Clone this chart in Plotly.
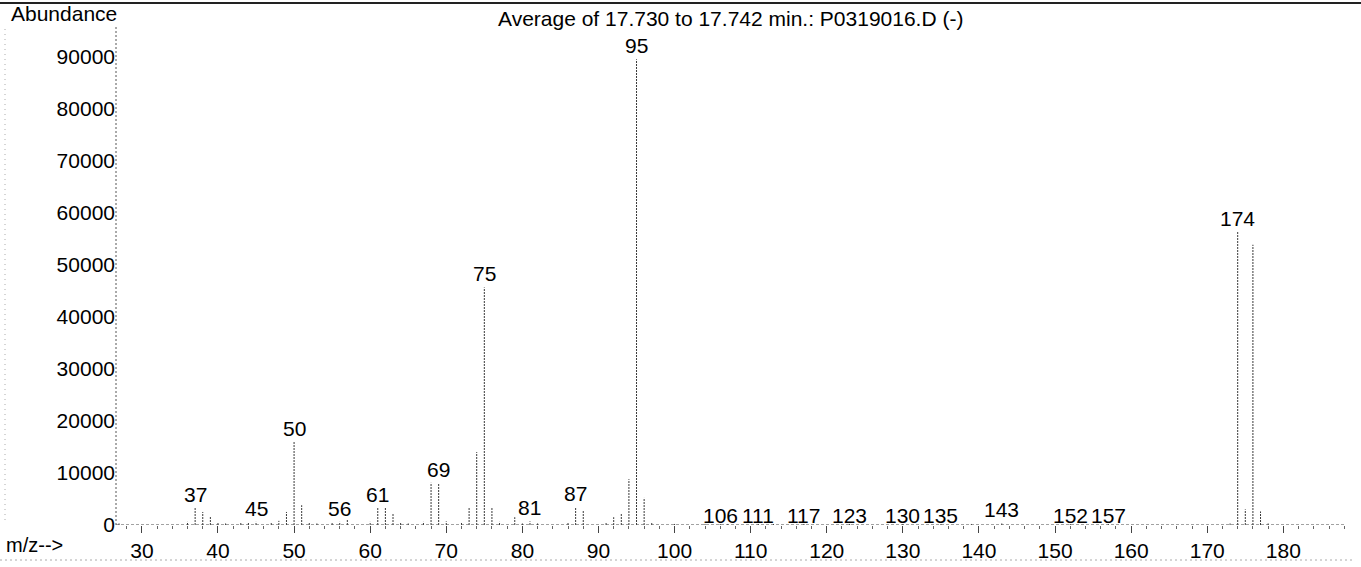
import plotly.graph_objects as go

# ---- data ----
mz = [27, 36, 37, 38, 39, 40, 41, 43, 44, 45, 47, 48, 49, 50, 51, 52, 53, 55, 56, 57,
      60, 61, 62, 63, 64, 65, 67, 68, 69, 70, 72, 73, 74, 75, 76, 77, 79, 80, 81, 82,
      86, 87, 88, 91, 92, 93, 94, 95, 96, 97, 100, 104, 106, 107, 111, 113, 117, 123,
      130, 135, 139, 143, 152, 157, 173, 174, 175, 176, 177, 178]
abundance = [300, 600, 3300, 2500, 1700, 400, 300, 400, 500, 600, 500, 800, 2500, 16000, 3800, 400, 300, 500, 600, 1000,
             600, 3300, 3300, 2300, 500, 300, 600, 8100, 8000, 700, 500, 3300, 14000, 45600, 3300, 600, 1500, 300, 700, 300,
             500, 3400, 2700, 400, 1500, 2300, 8800, 89400, 5200, 400, 200, 200, 200, 200, 200, 200, 200, 200,
             200, 200, 200, 300, 200, 200, 300, 56300, 3000, 53800, 2600, 300]
labels = [37, 45, 50, 56, 61, 69, 75, 81, 87, 95, 106, 111, 117, 123, 130, 135, 143, 152, 157, 174]
y_ticks = [0, 10000, 20000, 30000, 40000, 50000, 60000, 70000, 80000, 90000]
x_ticks = [30, 40, 50, 60, 70, 80, 90, 100, 110, 120, 130, 140, 150, 160, 170, 180]
title_text = "Average of 17.730 to 17.742 min.: P0319016.D (-)"

FONT = "Liberation Sans, Arial, sans-serif"
FS = 21
XMIN, XMAX = 26.6, 188.1
YMIN, YMAX = 0, 95600
PW, PH = 1229, 498  # plot area size in px

# stems
xs, ys = [], []
for m, a in zip(mz, abundance):
    xs += [m, m, None]
    ys += [0, a, None]

fig = go.Figure()
fig.add_trace(go.Scatter(x=xs, y=ys, mode="lines",
                         line=dict(color="#3a3a3a", width=1, dash="2px,1px"),
                         hoverinfo="skip", showlegend=False))

lookup = dict(zip(mz, abundance))
for lb in labels:
    a = lookup.get(lb, 0)
    fig.add_annotation(x=lb, y=a, text=str(lb), showarrow=False,
                       xanchor="center", yanchor="bottom", yshift=(-5 if a < 300 else 0),
                       font=dict(family=FONT, size=FS, color="black"))

# baseline (dotted) and y axis line
fig.add_shape(type="line", x0=XMIN, x1=XMAX, y0=0, y1=0, xref="x", yref="y",
              line=dict(color="#444", width=1, dash="3px,2px"))
fig.add_shape(type="line", x0=0, x1=0, y0=0, y1=1, xref="paper", yref="paper",
              line=dict(color="#555", width=1, dash="2px,2px"))
# top border line of the page
fig.add_shape(type="line", x0=-116/PW, x1=(1361-116)/PW, y0=1 + 24/PH, y1=1 + 24/PH,
              xref="paper", yref="paper", line=dict(color="#222", width=2))
# faint page edges
fig.add_shape(type="line", x0=-111/PW, x1=-111/PW, y0=0.01, y1=1, xref="paper", yref="paper",
              line=dict(color="#aaa", width=1, dash="1px,4px"))
fig.add_shape(type="line", x0=-116/PW, x1=(1352-116)/PW, y0=-35/PH, y1=-35/PH,
              xref="paper", yref="paper", line=dict(color="#aaa", width=1, dash="2px,3px"))

fig.add_annotation(text="Abundance", x=-107/PW, y=1 + 14/PH, xref="paper", yref="paper",
                   xanchor="left", yanchor="middle", showarrow=False,
                   font=dict(family=FONT, size=FS, color="black"))
fig.add_annotation(text="m/z-->", x=-112/PW, y=-20/PH, xref="paper", yref="paper",
                   xanchor="left", yanchor="middle", showarrow=False,
                   font=dict(family=FONT, size=FS - 1, color="black"))
fig.add_annotation(text=title_text, x=0.5, y=1 + 9/PH, xref="paper", yref="paper",
                   xanchor="center", yanchor="middle", showarrow=False,
                   font=dict(family=FONT, size=FS, color="black"))

fig.update_layout(
    width=1361, height=567,
    margin=dict(l=116, r=16, t=27, b=42),
    plot_bgcolor="white", paper_bgcolor="white",
    font=dict(family=FONT, size=FS, color="black"),
    showlegend=False,
)
fig.update_xaxes(range=[XMIN, XMAX], tickvals=x_ticks, ticktext=[str(v) for v in x_ticks],
                 ticks="outside", ticklen=7, tickcolor="#444", tickwidth=1,
                 minor=dict(dtick=2, tick0=0, ticks="outside", ticklen=3, tickcolor="#666"),
                 showgrid=False, zeroline=False, showline=False, automargin=False,
                 tickfont=dict(family=FONT, size=FS, color="black"))
fig.update_yaxes(range=[YMIN, YMAX], tickvals=y_ticks, ticktext=[str(v) for v in y_ticks],
                 ticks="", showgrid=False, zeroline=False, showline=False, automargin=False,
                 tickfont=dict(family=FONT, size=FS, color="black"))

fig.write_html("out.html", config={"displayModeBar": False},
               post_script="document.body.style.margin='0';document.body.style.padding='0';")
